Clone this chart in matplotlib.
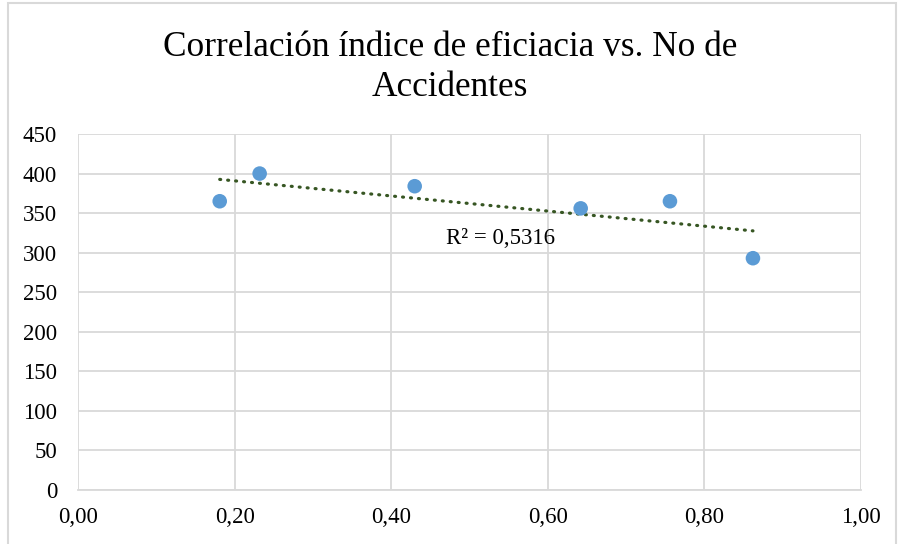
import matplotlib
matplotlib.use("Agg")
import matplotlib.pyplot as plt
import numpy as np
from matplotlib.patches import Rectangle
from matplotlib.ticker import FuncFormatter

# Data
eficacia = [0.181, 0.232, 0.430, 0.642, 0.756, 0.862]
accidentes = [365, 400, 384, 356, 365, 293]
r2_label = "R² = 0,5316"
title = "Correlación índice de eficiacia vs. No de\nAccidentes"

plt.rcParams['font.family'] = ['Liberation Serif', 'DejaVu Serif']

fig = plt.figure(figsize=(9, 5.44), dpi=100)
ax = fig.add_axes([78/900, 1-490/544, (861-78)/900, (490-134)/544])

# frame around chart area
fig.patches.append(Rectangle((8/900, -0.02), (896-8)/900, 1-3/544+0.02,
                             transform=fig.transFigure, fill=False,
                             edgecolor='#d9d9d9', linewidth=1.5))

ax.scatter(eficacia, accidentes, s=110, color='#5B9BD5', zorder=3, edgecolors='none')

x = np.array(eficacia)
y = np.array(accidentes)
m, b = np.polyfit(x, y, 1)
xs = np.array([x.min(), x.max()])
ax.plot(xs, m*xs + b, color='#375623', linestyle=(0, (0.3, 2.2)), linewidth=2.3,
        dash_capstyle='round', zorder=2)

ax.text(0.540, 318, r2_label, fontsize=16.5, ha='center', va='center', color='#000000')

ax.set_xlim(0, 1.0)
ax.set_ylim(0, 450)
ax.set_xticks(np.arange(0, 1.01, 0.2))
ax.set_yticks(np.arange(0, 451, 50))
ax.xaxis.set_major_formatter(FuncFormatter(lambda v, p: f"{v:.2f}".replace('.', ',')))
ax.grid(True, color='#d9d9d9', linewidth=1.3)
ax.set_axisbelow(True)
for s in ax.spines.values():
    s.set_visible(False)
ax.spines['bottom'].set_visible(True)
ax.spines['bottom'].set_color('#d9d9d9')
ax.spines['bottom'].set_linewidth(1.3)
ax.tick_params(length=0, labelsize=16.5, colors='#000000')
ax.tick_params(axis='x', pad=12.5)
ax.tick_params(axis='y', pad=15)

fig.text(0.5, 1-31/544, title, ha='center', va='top', fontsize=25.4, linespacing=1.3)

fig.savefig("out.png", dpi=100)
